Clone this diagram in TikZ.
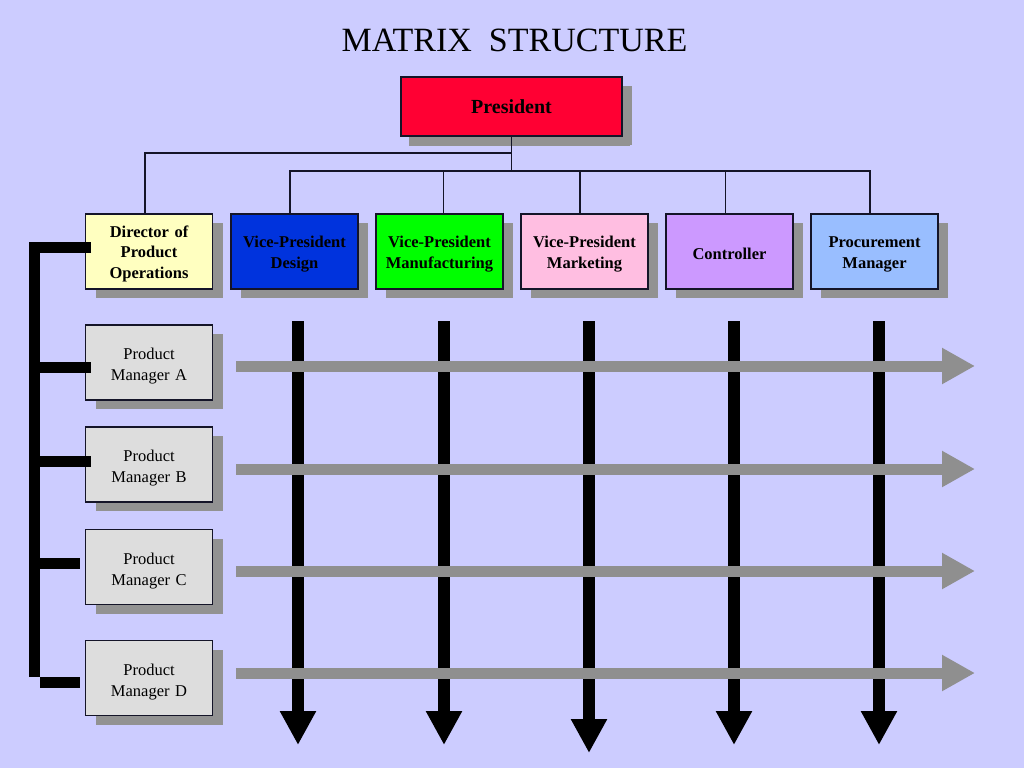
\documentclass[tikz,border=0pt]{standalone}
\usepackage{fontspec}
\setmainfont{Liberation Serif}
\usetikzlibrary{arrows.meta,shadows}
\definecolor{bgc}{RGB}{204,204,255}
\definecolor{shadowc}{RGB}{146,146,146}
\definecolor{presc}{RGB}{255,0,51}
\definecolor{dirc}{RGB}{255,255,192}
\definecolor{desc}{RGB}{0,51,221}
\definecolor{manc}{RGB}{0,255,0}
\definecolor{mktc}{RGB}{255,190,225}
\definecolor{ctlc}{RGB}{204,153,255}
\definecolor{proc}{RGB}{153,190,255}
\definecolor{pmc}{RGB}{221,221,221}
\definecolor{grayarr}{RGB}{143,143,143}
\definecolor{edgec}{RGB}{20,20,40}
\tikzset{
  box/.style={draw=edgec, line width=1.3pt, minimum width=127pt, minimum height=75pt,
    inner sep=2pt, align=center, text width=123pt,
    general shadow={fill=shadowc, shadow xshift=10pt, shadow yshift=-9pt}},
  topbox/.style={box, font=\bfseries\fontsize{16.5}{20.5}\selectfont,
    execute at begin node={\rule{0pt}{16.5pt}}},
  pmbox/.style={box, fill=pmc, font=\fontsize{16.5}{21}\selectfont,
    execute at begin node={\rule{0pt}{19.5pt}}},
  conn/.style={draw=edgec, line width=1.3pt},
  bracket/.style={line width=11pt, black, line join=miter},
  downarrow/.style={line width=12pt, black, -{Triangle[width=34pt 0 0,length=34pt 0 0]}},
  rightarrow/.style={line width=11pt, grayarr, -{Triangle[width=34pt 0 0,length=33pt 0 0]}}
}
\begin{document}
\begin{tikzpicture}[x=1pt,y=-1pt]
\useasboundingbox (0,0) rectangle (1024,768);
\fill[bgc] (0,0) rectangle (1024,768);

\node[anchor=base, font=\fontsize{34}{40}\selectfont] (title) at (514.5,52) {MATRIX\ \ STRUCTURE};

\node[box, fill=presc, font=\bfseries\fontsize{20}{24}\selectfont, minimum width=221pt, minimum height=59pt, text width=215pt,
  general shadow={fill=shadowc, shadow xshift=8pt, shadow yshift=-10pt}] (pres) at (511.5,106.5) {President};

\node[topbox, fill=dirc] (dir) at (149,251.5) {Director of\\Product\\Operations};
\node[topbox, fill=desc] (vpd) at (294.5,251.5) {Vice-President\\Design};
\node[topbox, fill=manc] (vpm) at (439.5,251.5) {Vice-President\\Manufacturing};
\node[topbox, fill=mktc] (vpk) at (584.5,251.5) {Vice-President\\Marketing};
\node[topbox, fill=ctlc] (ctl) at (729.5,251.5) {Controller};
\node[topbox, fill=proc] (prm) at (874.5,251.5) {Procurement\\Manager};

\node[pmbox] (pmA) at (149,362.5) {Product\\Manager A};
\node[pmbox] (pmB) at (149,464.5) {Product\\Manager B};
\node[pmbox] (pmC) at (149,567) {Product\\Manager C};
\node[pmbox] (pmD) at (149,678) {Product\\Manager D};

% org connectors
\coordinate (busA) at (511.5,153);
\coordinate (busB) at (511.5,171);
\draw[conn] (pres.south) -- (busB);
\draw[conn] ([xshift=-4pt]dir.north) |- (busA);
\draw[conn] ([xshift=-4.5pt]vpd.north) |- (busB) -| ([xshift=-4.5pt]prm.north);
\draw[conn] ([xshift=4pt]vpm.north) -- ([xshift=4pt]vpm.north |- busB);
\draw[conn] ([xshift=-4.5pt]vpk.north) -- ([xshift=-4.5pt]vpk.north |- busB);
\draw[conn] ([xshift=-4pt]ctl.north) -- ([xshift=-4pt]ctl.north |- busB);

% left bracket
\coordinate (brTop) at (34.5,247.5);
\coordinate (brBot) at (34.5,677);
\coordinate (stA) at (40,367);
\coordinate (stB) at (40,461);
\coordinate (stC) at (40,563);
\coordinate (stD) at (40,682.5);
\coordinate (enA) at (91,367);
\coordinate (enB) at (91,461);
\coordinate (enC) at (80,563);
\coordinate (enD) at (80,682.5);
\coordinate (enDir) at (91,247.5);
\draw[bracket] (enDir) -- (brTop) -- (brBot);
\draw[bracket] (stA) -- (enA);
\draw[bracket] (stB) -- (enB);
\draw[bracket] (stC) -- (enC);
\draw[bracket] (stD) -- (enD);

% vertical functional arrows
\coordinate (v1s) at (298,321); \coordinate (v1e) at (298,745);
\coordinate (v2s) at (444,321); \coordinate (v2e) at (444,745);
\coordinate (v3s) at (589,321); \coordinate (v3e) at (589,753);
\coordinate (v4s) at (734,321); \coordinate (v4e) at (734,745);
\coordinate (v5s) at (879,321); \coordinate (v5e) at (879,745);
\draw[downarrow] (v1s) -- (v1e);
\draw[downarrow] (v2s) -- (v2e);
\draw[downarrow] (v3s) -- (v3e);
\draw[downarrow] (v4s) -- (v4e);
\draw[downarrow] (v5s) -- (v5e);

% horizontal product arrows
\coordinate (h1s) at (236,366); \coordinate (h1e) at (975,366);
\coordinate (h2s) at (236,469); \coordinate (h2e) at (975,469);
\coordinate (h3s) at (236,571); \coordinate (h3e) at (975,571);
\coordinate (h4s) at (236,673); \coordinate (h4e) at (975,673);
\draw[rightarrow] (h1s) -- (h1e);
\draw[rightarrow] (h2s) -- (h2e);
\draw[rightarrow] (h3s) -- (h3e);
\draw[rightarrow] (h4s) -- (h4e);
\end{tikzpicture}
\end{document}
